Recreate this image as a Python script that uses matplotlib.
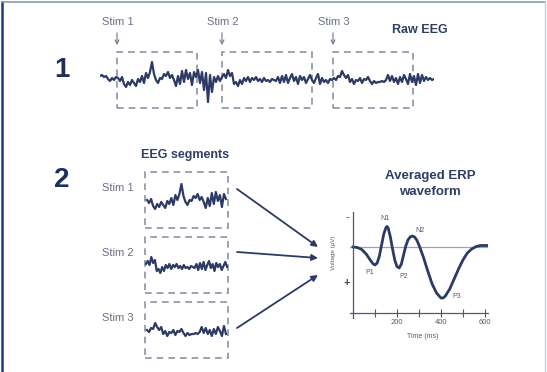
import numpy as np
import matplotlib
matplotlib.use("Agg")
import matplotlib.pyplot as plt
from matplotlib.patches import Rectangle

plt.rcParams["font.family"] = ["Liberation Sans", "DejaVu Sans"]

W, H = 547, 372

# raw EEG trace, one sample every 2 px, amplitude in px (up = positive)
raw_eeg = [
    4, 5, 3, 4, 1, -1, 2, 0, 3,
    2, -1, 3, -4, -7, -2, -5, 0, -3, -6,
    1, -2, 4, -3, 7, 2, 8, 18, 6, 0,
    -3, 2, 1, 6, 4, 8, 2, 5, 0, -6,
    4, -4, 9, -2, 10, 1, 7, -5, 8, 3,
    10, -3, 8, -10, 7, -22, 5, -12, 3, -2, 4, -1,
    3, 6, 2, 10, 4, 7, -4, -2, -6, 0,
    -4, 2, -1, 3, -2, 2, 0, 3, -1, 1,
    -2, 2, -1, 0, -2, 1, 0, -1, 3, -3,
    4, -2, 5, -3, 2, 6, -1, 3, -4, 4,
    0, 3, -3, 1, 5, 0,
    -3, 2, 6, -4, 2, -2, 0, -3, 1, 0,
    2, 0, 4, 3, 9, 5, 2, 5, -2, 1,
    -4, 0, -1, 2, -3, 1, 0, 3, -1, -4,
    -1, -3, -2, -2, -1, -2, 0, 5, -1, 4,
    -2, 2, -4, 3, -2, 5, 1, -4, 6, -2,
    4, -5, 6, -3, 5, -1, 3, 0, 2, 0, 1,
]
stim_labels = ["Stim 1", "Stim 2", "Stim 3"]
epoch_start = [8.5, 61, 116.5]
epoch_end = [48.5, 106, 156.5]

# averaged ERP (voltage in uV, positive plotted downwards)
erp_time = [0, 20, 40, 60, 80, 90, 100, 110, 120, 130, 140, 150, 155, 160, 170,
            180, 190, 200, 210, 220, 230, 240, 250, 260, 270, 280, 290, 300, 320,
            340, 360, 380, 400, 410, 420, 440, 460, 480, 500, 520, 540, 560, 580,
            600, 610]
erp_volt = [0, 0.05, 0.25, 0.7, 1.35, 1.65, 1.8, 1.6, 0.9, -0.2, -1.3, -1.95, -2.05,
            -1.9, -1.0, 0.2, 1.3, 1.95, 2.1, 1.7, 0.8, -0.1, -0.7, -1.0, -1.1, -1.0,
            -0.7, -0.2, 1.0, 2.4, 3.7, 4.6, 5.1, 5.1, 4.9, 4.2, 3.2, 2.2, 1.3, 0.6,
            0.2, -0.05, -0.15, -0.15, -0.15]
peak_names = ["P1", "N1", "P2", "N2", "P3"]
peak_time = [77, 145, 232, 305, 473]
peak_volt = [2.6, -2.8, 3.0, -1.7, 4.9]

trace_col = "#2c3b66"
box_col = "#8a93a5"
label_col = "#687082"
head_col = "#2e3f66"


def px_axes(x0, y0, x1, y1):
    return fig.add_axes([x0 / W, 1 - y1 / H, (x1 - x0) / W, (y1 - y0) / H])


fig = plt.figure(figsize=(W / 100, H / 100), dpi=100)

# overlay in pixel coordinates for frame, text and arrows
ov = fig.add_axes([0, 0, 1, 1])
ov.set_xlim(0, W)
ov.set_ylim(H, 0)
ov.axis("off")
ov.plot([2, 2], [2, H], color="#1f3a7a", lw=1.8)
ov.plot([2, 545], [2, 2], color="#8a9ab5", lw=1.2)
ov.plot([545, 545], [2, H], color="#c8d0dc", lw=1.0)

ov.text(62, 70, "1", fontsize=20, fontweight="bold", color="#1f2f5c", ha="center", va="center")
ov.text(62, 180, "2", fontsize=20, fontweight="bold", color="#1f2f5c", ha="center", va="center")
ov.text(420, 30, "Raw EEG", fontsize=9, fontweight="bold", color=head_col, ha="center", va="center")
ov.text(185, 155, "EEG segments", fontsize=9, fontweight="bold", color=head_col, ha="center", va="center")
ov.text(430, 184, "Averaged ERP\nwaveform", fontsize=9.5, fontweight="bold", color=head_col,
        ha="center", va="center", linespacing=1.35)

# panel 1: raw EEG
x_first, x_last = 100, 434
ax_raw = px_axes(x_first, 52, x_last, 108)
ax_raw.plot(np.arange(len(raw_eeg)), raw_eeg, color=trace_col, lw=1.6)
ax_raw.set_xlim(0, len(raw_eeg) - 1)
ax_raw.set_ylim(-28, 28)
ax_raw.axis("off")
px_per_sample = (x_last - x_first) / (len(raw_eeg) - 1)
for lab, s, e in zip(stim_labels, epoch_start, epoch_end):
    ax_raw.add_patch(Rectangle((s, -28), e - s, 56, fill=False, ec=box_col, lw=1.2,
                               ls=(0, (4, 3)), clip_on=False))
    xs = x_first + s * px_per_sample
    ov.text(xs + 1, 22, lab, fontsize=8, color=label_col, ha="center", va="center")
    ov.annotate("", xy=(xs, 48), xytext=(xs, 30),
                arrowprops=dict(arrowstyle="->", color="#7a8496", lw=0.9,
                                mutation_scale=7))

# panel 2: segments
seg_tops = [172, 237, 302]
arrow_from = [189, 252, 328]
arrow_to = [247, 258, 275]
for lab, s, e, top, ya, yb in zip(stim_labels, epoch_start, epoch_end, seg_tops,
                                  arrow_from, arrow_to):
    ax_s = px_axes(145, top, 228, top + 56)
    idx = np.arange(len(raw_eeg))
    keep = (idx >= s) & (idx <= e)
    ax_s.plot(idx[keep], np.array(raw_eeg)[keep], color=trace_col, lw=1.6)
    ax_s.set_xlim(s - 0.5, e + 0.5)
    ax_s.set_ylim(-26, 30)
    ax_s.axis("off")
    ax_s.add_patch(Rectangle((0, 0), 1, 1, transform=ax_s.transAxes, fill=False,
                             ec=box_col, lw=1.2, ls=(0, (4, 3)), clip_on=False))
    ov.text(118, top + 16, lab, fontsize=8, color=label_col, ha="center", va="center")
    ov.annotate("", xy=(318, yb), xytext=(237, ya),
                arrowprops=dict(arrowstyle="-|>", color=trace_col, lw=1.3,
                                mutation_scale=9, shrinkA=0, shrinkB=0))

# averaged ERP
ax_e = px_axes(350, 212, 488, 318)
ax_e.axhline(0, color="#9aa3b5", lw=0.9)
ax_e.plot(erp_time, erp_volt, color=trace_col, lw=2)
ax_e.set_xlim(-13.6, 614)
ax_e.set_ylim(7.1, -3.5)
ax_e.patch.set_visible(False)
for sp in ["top", "right"]:
    ax_e.spines[sp].set_visible(False)
ax_e.spines["left"].set_position(("data", 0))
ax_e.spines["bottom"].set_position(("data", 6.6))
for sp in ["left", "bottom"]:
    ax_e.spines[sp].set_color("#4a5a78")
    ax_e.spines[sp].set_linewidth(0.9)
ax_e.set_yticks([])
ax_e.set_xticks([100, 200, 300, 400, 500, 600])
ax_e.set_xticklabels(["", "200", "", "400", "", "600"])
ax_e.tick_params(axis="x", direction="inout", length=6, width=0.8, color="#4a5a78",
                 labelsize=5.5, labelcolor="#555d70", pad=1)
for n, t, v in zip(peak_names, peak_time, peak_volt):
    ax_e.text(t, v, n, fontsize=5, color="#555d70", ha="center", va="center")

ov.text(347, 217, "-", fontsize=8, color="#3a4560", ha="center", va="center")
ov.text(347, 283, "+", fontsize=8, fontweight="bold", color="#3a4560", ha="center", va="center")
ov.text(333, 253, "Voltage (\u03bcV)", fontsize=4.5, color="#555d70", rotation=90,
        ha="center", va="center")
ov.text(423, 337, "Time (ms)", fontsize=5, color="#555d70", ha="center", va="center")

fig.savefig("out.png", dpi=100)
